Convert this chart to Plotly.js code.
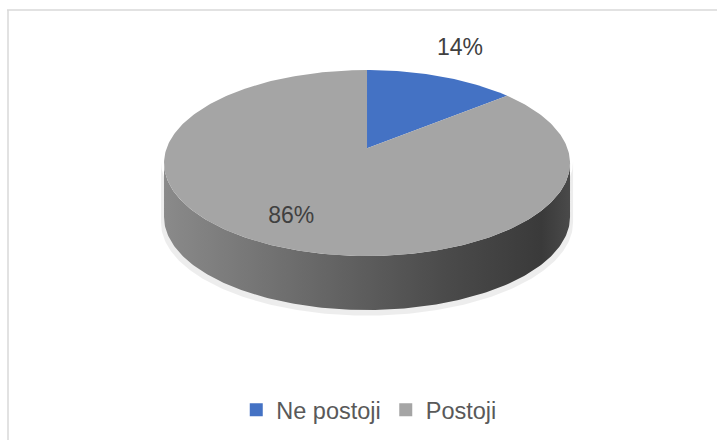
<!DOCTYPE html>
<html>
<head>
<meta charset="utf-8">
<script src="https://cdn.plot.ly/plotly-3.0.1.min.js"></script>
<style>
  html, body { margin: 0; padding: 0; background: #ffffff; }
  #chart { width: 717px; height: 440px; }
</style>
</head>
<body>
<div id="chart"></div>
<script>
// ---- data ----
const labels = ['Ne postoji', 'Postoji'];
const values = [14, 86];
const colors = ['#4472c4', '#a5a5a5'];

// ---- geometry (unit disc seen in perspective; axes map to pixels) ----
const DEPTH = 0.58;          // thickness of the 3D disc, in vertical radii
const PERSP = 0.16;          // perspective strength (centre appears shifted back)
const STEP = 1;              // arc resolution, degrees
const rad = d => d * Math.PI / 180;
const SX = Math.sqrt(1 - PERSP * PERSP);

// project a point of the unit circle plane (X right, Y back) to screen units
function proj(X, Y, dy) {
  const w = 1 + PERSP * Y;
  return [X * SX / w, (Y + PERSP) / w + dy];
}

function arc(a0, a1, dy) {
  const xs = [], ys = [];
  const n = Math.max(2, Math.ceil(Math.abs(a1 - a0) / STEP));
  for (let i = 0; i <= n; i++) {
    const a = rad(a0 + (a1 - a0) * i / n);
    const p = proj(Math.sin(a), Math.cos(a), dy);
    xs.push(p[0]); ys.push(p[1]);
  }
  return { xs, ys };
}

const total = values.reduce((s, v) => s + v, 0);
const traces = [];

// visible front rim range (silhouette points)
const RIM0 = Math.acos(-PERSP) * 180 / Math.PI;   // ~99°
const RIM1 = 360 - RIM0;

// soft shadow beneath the disc
{
  const top = arc(RIM0, RIM1, 0.02), bot = arc(RIM1, RIM0, -DEPTH - 0.06);
  traces.push({
    type: 'scatter', mode: 'lines', hoverinfo: 'skip', showlegend: false,
    x: top.xs.concat(bot.xs).map(x => x * 1.015), y: top.ys.concat(bot.ys),
    fill: 'toself', fillcolor: 'rgba(0,0,0,0.07)', line: { width: 0 }
  });
}

// slice angle spans (clockwise from 12 o'clock)
let cum = 0;
const spans = values.map(v => {
  const a0 = 360 * cum / total;
  cum += v;
  return [a0, 360 * cum / total];
});

// side walls (front part of each slice)
spans.forEach(([a0, a1], i) => {
  const s0 = Math.max(a0, RIM0), s1 = Math.min(a1, RIM1);
  if (s1 <= s0) return;
  const top = arc(s0, s1, 0), bot = arc(s1, s0, -DEPTH);
  traces.push({
    type: 'scatter', mode: 'lines', hoverinfo: 'skip', showlegend: false,
    x: top.xs.concat(bot.xs), y: top.ys.concat(bot.ys),
    fill: 'toself', line: { width: 0 },
    fillgradient: {
      type: 'horizontal', start: -1, stop: 1,
      colorscale: i === 0
        ? [[0, '#2f528f'], [1, '#1f3864']]
        : [[0, '#8a8a8a'], [0.35, '#6a6a6a'], [0.7, '#4a4a4a'], [0.93, '#3a3a3a'], [1, '#4a4a4a']]
    }
  });
});

// top faces
const apex = proj(0, 0, 0);
spans.forEach(([a0, a1], i) => {
  const a = arc(a0, a1, 0);
  traces.push({
    type: 'scatter', mode: 'lines', hoverinfo: 'skip', showlegend: false,
    x: [apex[0]].concat(a.xs, [apex[0]]), y: [apex[1]].concat(a.ys, [apex[1]]),
    fill: 'toself', fillcolor: colors[i], line: { width: 0 }
  });
});

// percentage labels
const lx = [], ly = [], lt = [];
spans.forEach(([a0, a1], i) => {
  const m = rad((a0 + a1) / 2);
  const share = values[i] / total;
  const p = proj(Math.sin(m), Math.cos(m), 0);
  const outside = share < 0.25;
  lx.push(p[0] * (outside ? 1.248 : 0.76));
  ly.push(p[1] * (outside ? 1.318 : 0.673));
  lt.push(Math.round(share * 100) + '%');
});
traces.push({
  type: 'scatter', mode: 'text', hoverinfo: 'skip', showlegend: false,
  x: lx, y: ly, text: lt, textposition: 'middle center',
  textfont: { family: 'Liberation Sans, Arial, sans-serif', size: 23, color: '#404040' }
});

// legend entries
labels.forEach((lab, i) => {
  traces.push({
    type: 'scatter', mode: 'markers', name: lab, x: [null], y: [null],
    marker: { symbol: 'square', size: 13, color: colors[i] }, hoverinfo: 'skip'
  });
});

const layout = {
  width: 717, height: 440,
  margin: { l: 0, r: 0, t: 0, b: 0 },
  paper_bgcolor: '#ffffff', plot_bgcolor: '#ffffff',
  xaxis: { range: [-1.808, 1.724], visible: false, fixedrange: true },
  yaxis: { range: [-2.978, 1.753], visible: false, fixedrange: true },
  showlegend: true,
  legend: {
    orientation: 'h', x: 0.515, xanchor: 'center', y: 1 - 410 / 440, yanchor: 'middle',
    font: { family: 'Liberation Sans, Arial, sans-serif', size: 23.5, color: '#595959' },
    itemwidth: 30, bgcolor: 'rgba(0,0,0,0)'
  },
  shapes: [
    { type: 'line', xref: 'paper', yref: 'paper', x0: 7 / 717, x1: 1, y0: 1 - 10 / 440, y1: 1 - 10 / 440,
      line: { color: '#d9d9d9', width: 1.5 } },
    { type: 'line', xref: 'paper', yref: 'paper', x0: 8 / 717, x1: 8 / 717, y0: 0, y1: 1 - 10 / 440,
      line: { color: '#d9d9d9', width: 1.5 } }
  ]
};

Plotly.newPlot('chart', traces, layout, { staticPlot: true, displayModeBar: false });
</script>
</body>
</html>
